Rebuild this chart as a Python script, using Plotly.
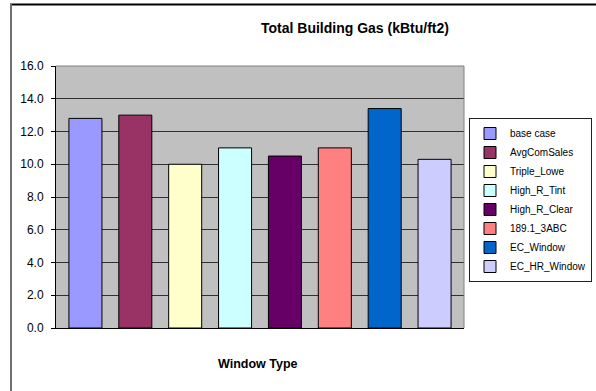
import plotly.graph_objects as go

window_types = ["base case", "AvgComSales", "Triple_Lowe", "High_R_Tint",
                "High_R_Clear", "189.1_3ABC", "EC_Window", "EC_HR_Window"]
gas_values = [12.8, 13.0, 10.0, 11.0, 10.5, 11.0, 13.4, 10.3]
bar_colors = ["#9999FF", "#993366", "#FFFFCC", "#CCFFFF",
              "#660066", "#FF8080", "#0066CC", "#CCCCFF"]
y_ticks = [0, 2, 4, 6, 8, 10, 12, 14, 16]

W, H = 596, 391
L, R, T, B = 56, 132, 66, 63
pw, ph = W - L - R, H - T - B

def px_x(x):
    return (x - L) / pw

def px_y(y):
    return (H - B - y) / ph

fig = go.Figure()
for name, val, col in zip(window_types, gas_values, bar_colors):
    fig.add_trace(go.Bar(x=[name], y=[val], name=name,
                         marker=dict(color=col, line=dict(color="black", width=1))))

fig.update_layout(
    width=W, height=H,
    margin=dict(l=L, r=R, t=T, b=B, autoexpand=False),
    paper_bgcolor="white", plot_bgcolor="#C0C0C0",
    barmode="overlay", bargap=0.338,
    font=dict(family="Liberation Sans, Arial, sans-serif", size=11, color="black"),
    showlegend=True,
    legend=dict(x=px_x(469), y=px_y(118), xanchor="left", yanchor="top",
                bgcolor="white", bordercolor="#202020", borderwidth=1,
                font=dict(size=10), tracegroupgap=0, itemwidth=30),
    xaxis=dict(categoryorder="array", categoryarray=window_types,
               range=[-0.59, 7.59], showticklabels=False, ticks="",
               showline=True, linecolor="black", linewidth=1, showgrid=False,
               zeroline=False, fixedrange=True),
    yaxis=dict(range=[0, 16], tickvals=y_ticks, tickformat=".1f",
               ticks="outside", ticklen=4, tickcolor="black",
               showline=True, linecolor="black", linewidth=1,
               gridcolor="#303030", gridwidth=1, zeroline=False,
               tickfont=dict(size=12), ticklabelstandoff=5),
    annotations=[
        dict(text="<b>Total Building Gas (kBtu/ft2)</b>", xref="paper", yref="paper",
             x=px_x(355), y=px_y(28), showarrow=False, font=dict(size=14),
             xanchor="center", yanchor="middle"),
        dict(text="<b>Window Type</b>", xref="paper", yref="paper",
             x=px_x(258), y=px_y(364), showarrow=False, font=dict(size=12.5),
             xanchor="center", yanchor="middle"),
    ],
    shapes=[
        dict(type="line", xref="paper", yref="paper",
             x0=px_x(10), x1=px_x(600), y0=px_y(4.5), y1=px_y(4.5),
             line=dict(color="black", width=2)),
        dict(type="line", xref="paper", yref="paper",
             x0=px_x(11), x1=px_x(11), y0=px_y(4), y1=px_y(400),
             line=dict(color="#707070", width=2)),
        dict(type="line", xref="paper", yref="paper", x0=0, x1=1, y0=1, y1=1,
             line=dict(color="#808080", width=1)),
        dict(type="line", xref="paper", yref="paper", x0=1, x1=1, y0=0, y1=1,
             line=dict(color="#808080", width=1)),
    ],
)

fig.write_html("out.html", config={"displayModeBar": False},
               post_script="document.body.style.margin='0';document.body.style.overflow='hidden';")
